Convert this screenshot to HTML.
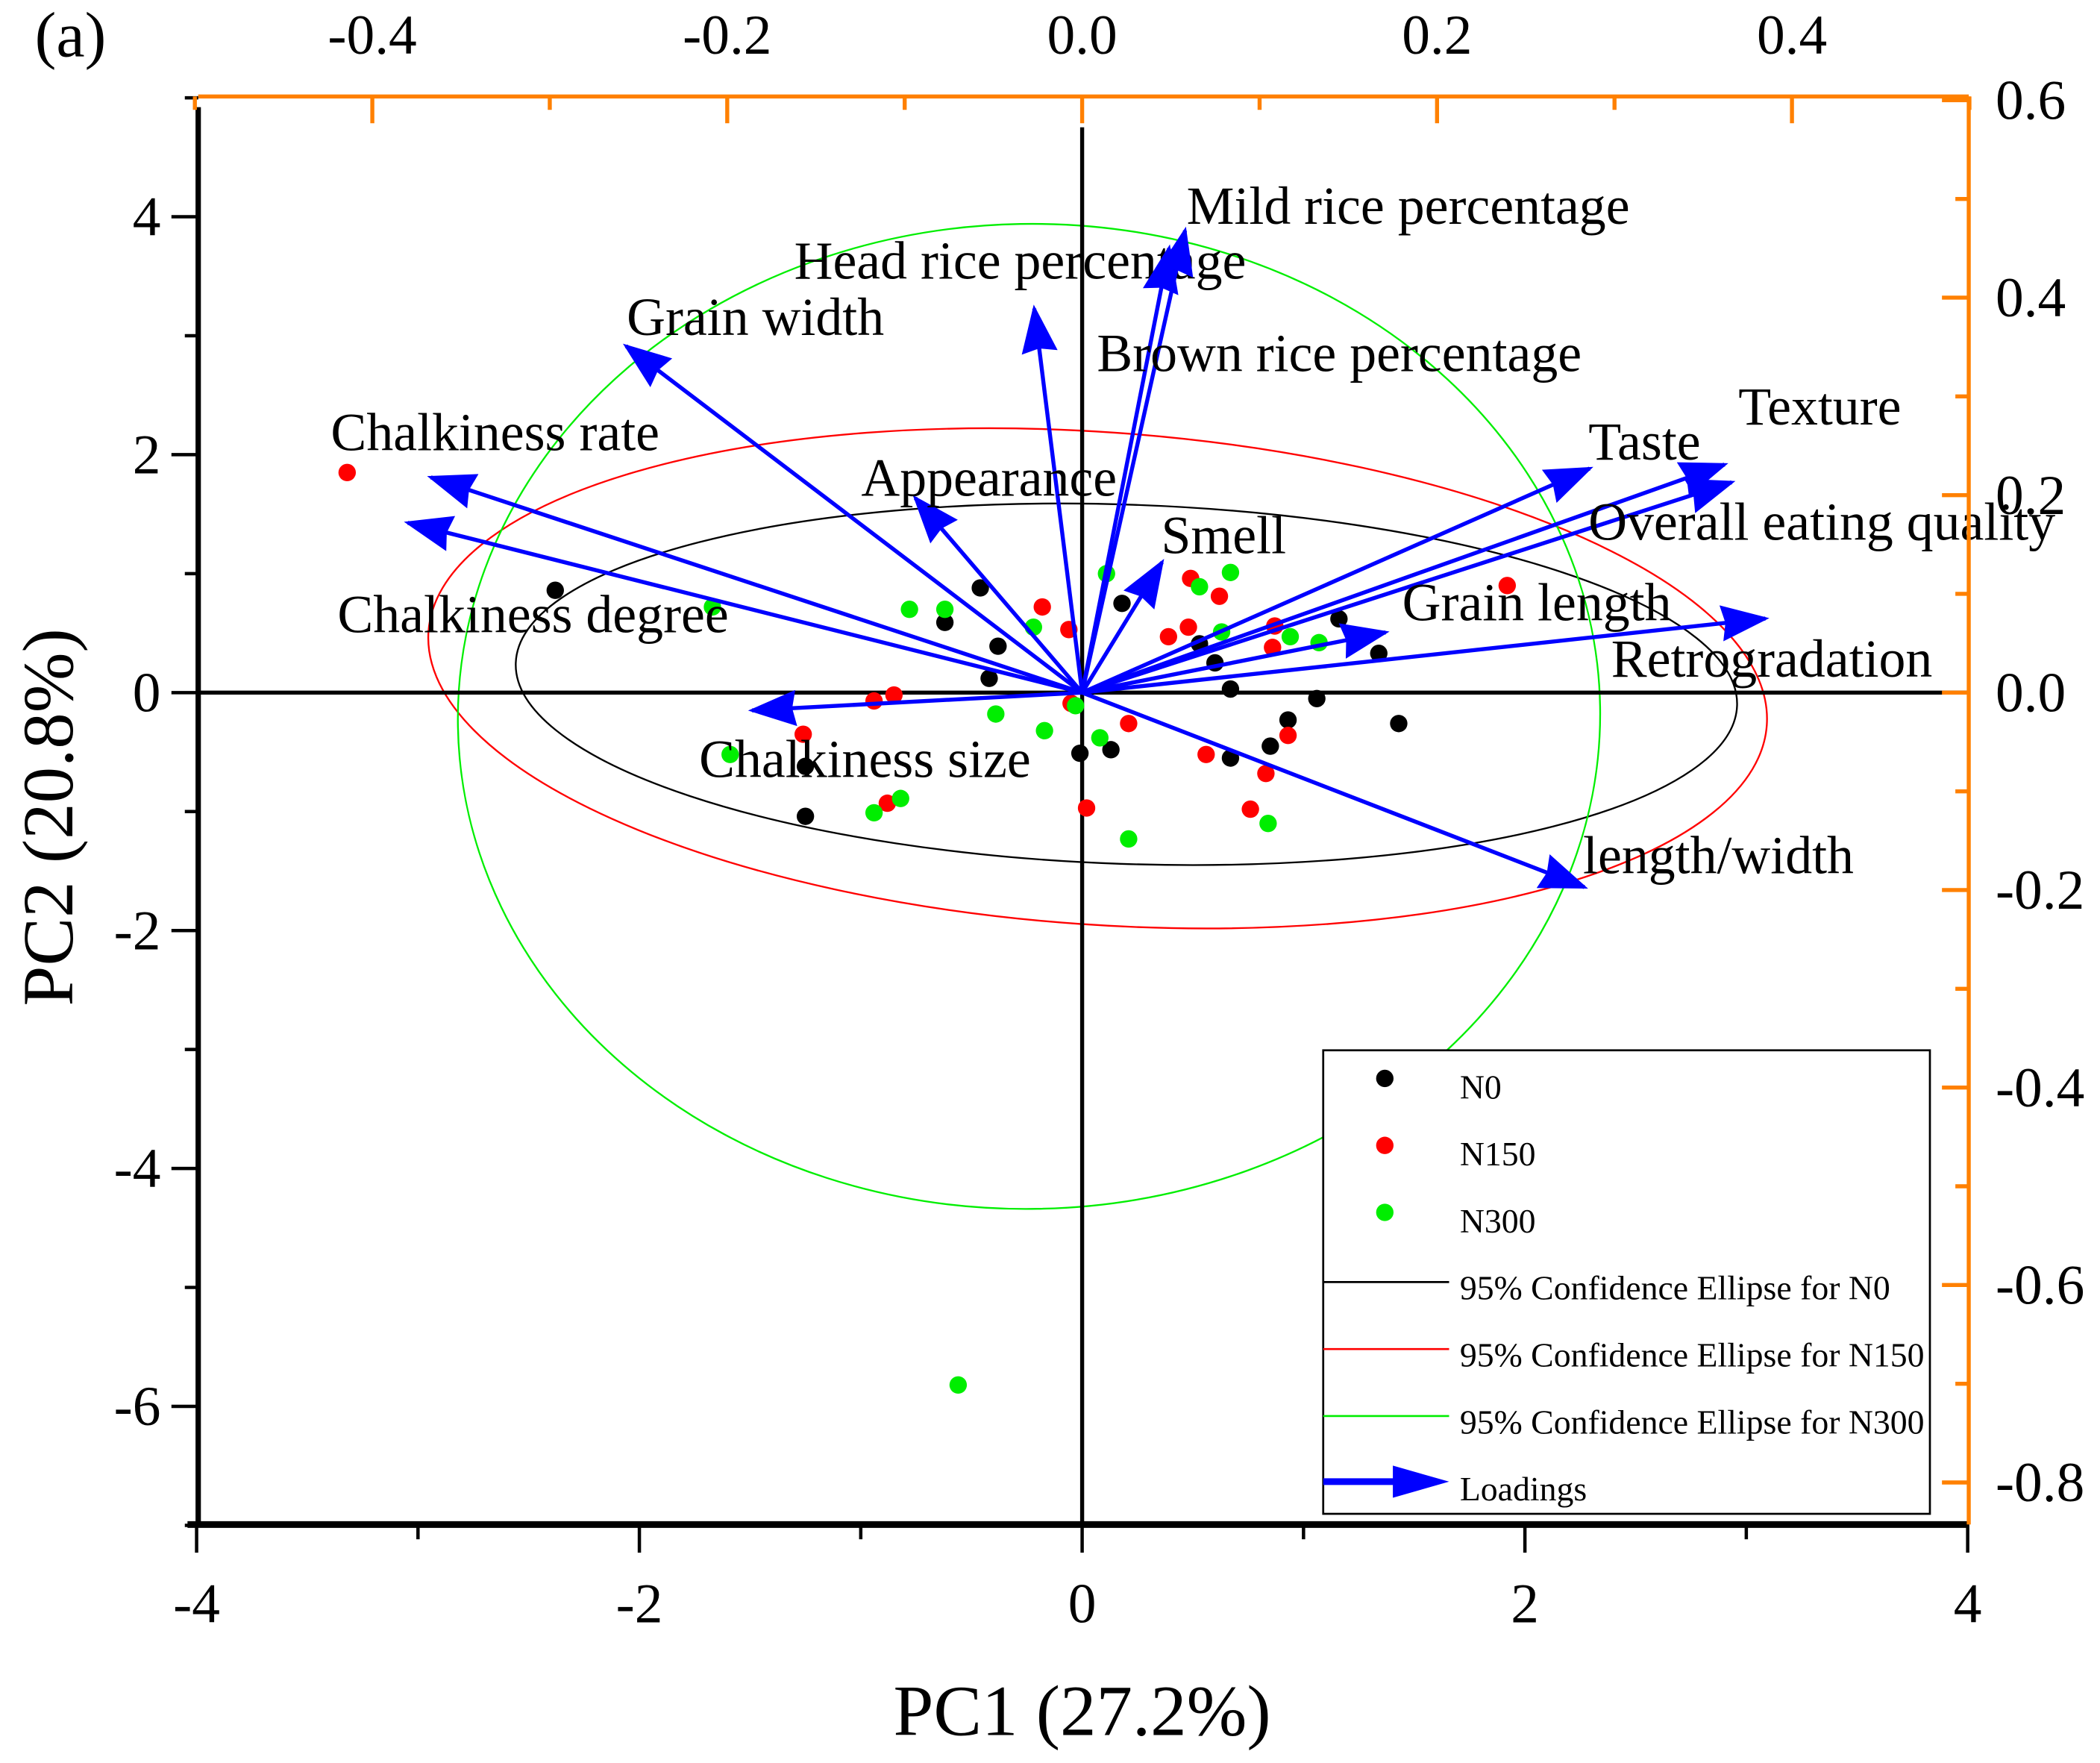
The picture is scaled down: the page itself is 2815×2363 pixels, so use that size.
<!DOCTYPE html>
<html><head><meta charset="utf-8"><style>html,body{margin:0;padding:0;background:#fff}svg{display:block}text{font-family:"Liberation Serif",serif}</style></head>
<body>
<svg id="c" width="2815" height="2363" viewBox="0 0 1568 1316" preserveAspectRatio="none" xmlns="http://www.w3.org/2000/svg"></svg>
<script>
const N0x=[-2.38,-0.46,-0.62,-0.38,-0.42,0.18,0.53,0.60,0.67,1.16,1.34,1.06,0.93,1.43,0.85,0.67,0.13,-0.01,-1.25,-1.25];
const N0y=[0.86,0.88,0.59,0.39,0.12,0.75,0.41,0.25,0.03,0.62,0.33,-0.05,-0.23,-0.26,-0.45,-0.55,-0.48,-0.51,-0.62,-1.04];
const N150x=[-3.32,-0.18,-0.06,0.49,0.62,0.39,0.48,0.87,0.86,1.92,-0.85,-0.94,-0.05,0.21,0.93,-1.26,0.56,0.83,0.76,0.02,-0.88];
const N150y=[1.85,0.72,0.53,0.96,0.81,0.47,0.55,0.56,0.38,0.90,-0.02,-0.07,-0.09,-0.26,-0.36,-0.35,-0.52,-0.68,-0.98,-0.97,-0.93];
const N300x=[-1.67,-0.78,-0.62,-0.22,0.11,0.53,0.67,0.63,0.94,1.07,-0.03,-0.39,-0.17,0.08,-1.59,-0.82,-0.94,0.21,0.84,-0.56];
const N300y=[0.72,0.70,0.70,0.55,1.00,0.89,1.01,0.51,0.47,0.42,-0.11,-0.18,-0.32,-0.38,-0.52,-0.89,-1.01,-1.23,-1.10,-5.82];
const loadNames=["Chalkiness rate","Chalkiness degree","Grain width","Head rice percentage","Appearance","Mild rice percentage","Brown rice percentage","Smell","Taste","Texture","Overall eating quality","Grain length","Retrogradation","length/width","Chalkiness size"];
const loadX=[-0.367,-0.380,-0.257,-0.027,-0.094,0.058,0.049,0.045,0.286,0.362,0.366,0.171,0.385,0.283,-0.186];
const loadY=[0.218,0.172,0.351,0.389,0.197,0.468,0.450,0.132,0.227,0.231,0.213,0.061,0.075,-0.197,-0.018];
const labelPos=[[247,336],[252,472],[468,250],[593,208],[643,370],[886,167],[819,277],[867,413],[1186,343],[1298,317],[1186,403],[1047,463],[1203,505],[1182,652],[522,580]];
const ellN0=[0.20,0.07,2.76,1.51,2];
const ellN150=[0.07,0.12,3.03,2.07,4];
const ellN300=[-0.24,-0.20,2.58,4.14,-1];
const xTicks=[-4,-2,0,2,4], yTicks=[4,2,0,-2,-4,-6];
const topTicks=[-0.4,-0.2,0.0,0.2,0.4], rightTicks=[0.6,0.4,0.2,0.0,-0.2,-0.4,-0.6,-0.8];

const L=148,R=1470,T=72,B=1138;
const sx=v=>808+v*165.3, sy=v=>517-v*88.8;
const lx=v=>808+v*1325, ly=v=>517-v*737;
const svg=document.getElementById('c');const NS='http://www.w3.org/2000/svg';
function el(t,a,txt){const e=document.createElementNS(NS,t);for(const k in a)e.setAttribute(k,a[k]);if(txt!==undefined)e.textContent=txt;svg.appendChild(e);return e;}
let e;
const defs=document.createElementNS(NS,'defs');defs.innerHTML='<marker id="ah" markerWidth="12" markerHeight="9" refX="11" refY="4.5" orient="auto" markerUnits="strokeWidth"><path d="M0,0 L12,4.5 L0,9 L1,4.5 Z" fill="#0000ff"/></marker>';svg.appendChild(defs);
[[ellN0,'#000'],[ellN150,'#ff0000'],[ellN300,'#00ee00']].forEach(([p,c],i)=>{
 e=el('ellipse',{cx:sx(p[0]),cy:sy(p[1]),rx:p[2]*165.3,ry:p[3]*88.8,fill:'none',stroke:c,'stroke-width':1.3,transform:`rotate(${p[4]} ${sx(p[0])} ${sy(p[1])})`});
 
 
});
e=el('line',{x1:808,y1:95,x2:808,y2:B,stroke:'#000','stroke-width':3});
e=el('line',{x1:L,y1:517,x2:R,y2:517,stroke:'#000','stroke-width':3});
[[N0x,N0y,'#000'],[N150x,N150y,'#ff0000'],[N300x,N300y,'#00ee00']].forEach(([xs,ys,c],g)=>{
 xs.forEach((v,i)=>{e=el('circle',{cx:sx(v),cy:sy(ys[i]),r:6.5,fill:c});
 
 });
});
loadX.forEach((v,i)=>{
 e=el('line',{x1:808,y1:517,x2:lx(v),y2:ly(loadY[i]),stroke:'#0000ff','stroke-width':3,'marker-end':'url(#ah)'});
 
 
 e=el('text',{x:labelPos[i][0],y:labelPos[i][1],'font-size':40},loadNames[i]);
 
 
});
e=el('line',{x1:L,y1:80,x2:L,y2:B+2,stroke:'#000','stroke-width':4});
e=el('line',{x1:L-8,y1:B,x2:R,y2:B,stroke:'#000','stroke-width':5});
e=el('line',{x1:L,y1:T,x2:R,y2:T,stroke:'#ff8000','stroke-width':3});
e=el('line',{x1:R,y1:T,x2:R,y2:B,stroke:'#ff8000','stroke-width':3});
for(let v=-4;v<=4;v+=1){const maj=v%2===0;el('line',{x1:sx(v),y1:B,x2:sx(v),y2:B+(maj?21:11),stroke:'#000','stroke-width':2.5});}
xTicks.forEach(v=>{e=el('text',{x:sx(v),y:B+73,'font-size':42,'text-anchor':'middle'},v===0?'0':(v<0?'-'+(-v):''+v));});
for(let v=-7;v<=5;v+=1){const maj=v%2===0;el('line',{x1:L-(maj?20:10),y1:sy(v),x2:L,y2:sy(v),stroke:'#000','stroke-width':2.5});}
yTicks.forEach(v=>{e=el('text',{x:120,y:sy(v)+14,'font-size':42,'text-anchor':'end'},''+v);});
for(let k=-5;k<=5;k++){const v=k*0.1;const maj=k%2===0;el('line',{x1:lx(v),y1:T,x2:lx(v),y2:T+(maj?20:10),stroke:'#ff8000','stroke-width':3});}
topTicks.forEach(v=>{e=el('text',{x:lx(v),y:40,'font-size':42,'text-anchor':'middle'},v.toFixed(1));});
for(let k=-8;k<=6;k++){const v=k*0.1;const maj=k%2===0;el('line',{x1:R-(maj?20:10),y1:ly(v),x2:R,y2:ly(v),stroke:'#ff8000','stroke-width':3});}
rightTicks.forEach(v=>{e=el('text',{x:1490,y:ly(v)+14,'font-size':42},v.toFixed(1));});
e=el('text',{x:808,y:1295,'font-size':54,'text-anchor':'middle'},'PC1 (27.2%)');
e=el('text',{x:0,y:0,'font-size':54,'text-anchor':'middle',transform:'translate(54,610) rotate(-90)'},'PC2 (20.8%)');
e=el('text',{x:26,y:42,'font-size':48},'(a)');
e=el('rect',{x:988,y:784,width:453,height:346,fill:'#fff',stroke:'#000','stroke-width':1.5});
const legT=['N0','N150','N300'],legC=['#000','#ff0000','#00ee00'];
legT.forEach((t,i)=>{el('circle',{cx:1034,cy:805+i*50,r:6.5,fill:legC[i]});e=el('text',{x:1090,y:820+i*50,'font-size':25.5},t);});
['95% Confidence Ellipse for N0','95% Confidence Ellipse for N150','95% Confidence Ellipse for N300'].forEach((t,i)=>{el('line',{x1:988,y1:957+i*50,x2:1082,y2:957+i*50,stroke:legC[i],'stroke-width':1.5});e=el('text',{x:1090,y:970+i*50,'font-size':25.5},t);});
el('line',{x1:988,y1:1106,x2:1045,y2:1106,stroke:'#0000ff','stroke-width':5});
el('path',{d:'M1040,1094 L1082,1106 L1040,1118 Z',fill:'#0000ff'});
e=el('text',{x:1090,y:1120,'font-size':25.5},'Loadings');
</script>
</body></html>
